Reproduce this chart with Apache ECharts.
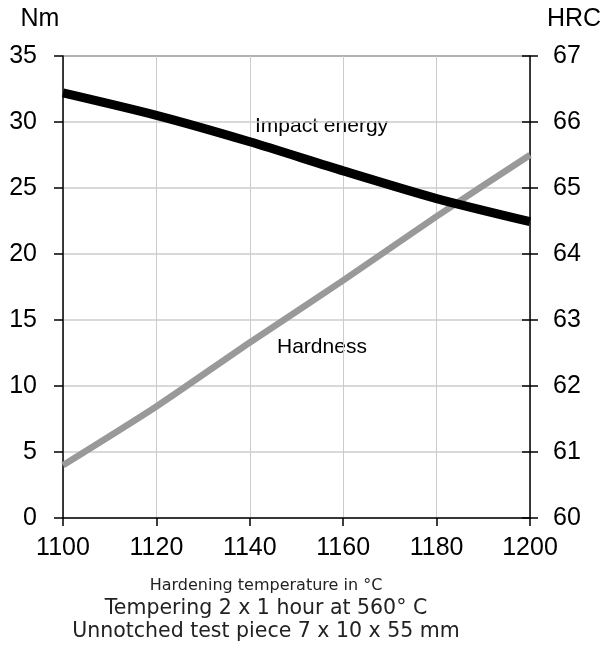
<!DOCTYPE html>
<html><head><meta charset="utf-8">
<script src="https://cdn.jsdelivr.net/npm/echarts@6/dist/echarts.min.js"></script>
<style>html,body{margin:0;padding:0;background:#fff}#c{width:605px;height:650px}</style>
</head><body><div id="c"></div>
<script>
var temps = [1100, 1120, 1140, 1160, 1180, 1200];
var impactEnergy = [32.2, 30.5, 28.5, 26.3, 24.2, 22.45];
var hardness = [60.8, 61.69, 62.66, 63.6, 64.57, 65.5];
var leftTicks = [0, 5, 10, 15, 20, 25, 30, 35];
var rightTicks = [60, 61, 62, 63, 64, 65, 66, 67];

var chart = echarts.init(document.getElementById('c'));
var axisFont = {fontFamily: 'Liberation Sans, Arial', fontSize: 25, color: '#000'};
var gridColors = ['#cccccc','#cccccc','#cccccc','#cccccc','#cccccc','#cccccc','#cccccc','#999999'];
chart.setOption({
  animation: false,
  grid: {left: 63, right: 75, top: 56, bottom: 132},
  xAxis: {
    type: 'value', min: 1100, max: 1200, interval: 20,
    axisLine: {lineStyle: {color: '#000', width: 1.5}},
    axisTick: {show: true, length: 8, lineStyle: {color: '#000', width: 1.5}},
    axisLabel: Object.assign({margin: 18, formatter: function (v) { return String(v); }}, axisFont),
    splitLine: {show: true, lineStyle: {color: '#cccccc', width: 1}}
  },
  yAxis: [{
    type: 'value', min: 0, max: 35, interval: 5, position: 'left',
    axisLine: {show: true, lineStyle: {color: '#000', width: 1.5}},
    axisTick: {show: true, length: 9, lineStyle: {color: '#000', width: 1.5}},
    axisLabel: Object.assign({margin: 26}, axisFont),
    splitLine: {show: true, lineStyle: {color: gridColors, width: 1.5}}
  }, {
    type: 'value', min: 60, max: 67, interval: 1, position: 'right',
    axisLine: {show: true, lineStyle: {color: '#000', width: 1.5}},
    axisTick: {show: true, length: 8, lineStyle: {color: '#000', width: 1.5}},
    axisLabel: Object.assign({margin: 23}, axisFont),
    splitLine: {show: false}
  }, {
    type: 'value', min: 60, max: 67, interval: 1, position: 'right',
    axisLine: {show: false},
    axisTick: {show: true, inside: true, length: 8, lineStyle: {color: '#000', width: 1.5}},
    axisLabel: {show: false},
    splitLine: {show: false}
  }],
  series: [{
    name: 'Impact energy', type: 'line', yAxisIndex: 0, smooth: 0.25,
    symbol: 'none', z: 3,
    lineStyle: {color: '#000', width: 9},
    data: temps.map(function (t, i) { return [t, impactEnergy[i]]; })
  }, {
    name: 'Hardness', type: 'line', yAxisIndex: 1, smooth: 0.25,
    symbol: 'none', z: 2,
    lineStyle: {color: '#999999', width: 6.5},
    data: temps.map(function (t, i) { return [t, hardness[i]]; })
  }],
  graphic: [
    {type: 'text', x: 40, y: 19, style: {text: 'Nm', font: '25px "Liberation Sans", Arial', fill: '#000', align: 'center', verticalAlign: 'middle'}},
    {type: 'text', x: 574, y: 19, style: {text: 'HRC', font: '25px "Liberation Sans", Arial', fill: '#000', align: 'center', verticalAlign: 'middle'}},
    {type: 'text', left: 255, top: 116, style: {text: 'Impact energy', font: '21px "Liberation Sans", Arial', fill: '#000'}},
    {type: 'text', left: 277, top: 337, style: {text: 'Hardness', font: '21px "Liberation Sans", Arial', fill: '#000'}},
    {type: 'text', x: 266, y: 586, style: {text: 'Hardening temperature in °C', font: '16px "DejaVu Sans"', fill: '#222', align: 'center', verticalAlign: 'middle'}},
    {type: 'text', x: 266, y: 609, style: {text: 'Tempering 2 x 1 hour at 560° C', font: '20.5px "DejaVu Sans"', fill: '#222', align: 'center', verticalAlign: 'middle'}},
    {type: 'text', x: 266, y: 632, style: {text: 'Unnotched test piece 7 x 10 x 55 mm', font: '20.5px "DejaVu Sans"', fill: '#222', align: 'center', verticalAlign: 'middle'}}
  ]
});
</script></body></html>
